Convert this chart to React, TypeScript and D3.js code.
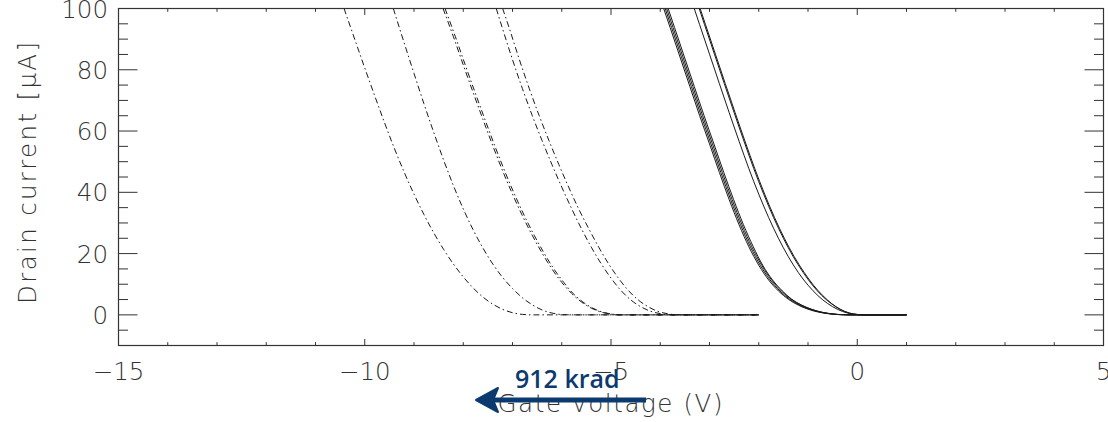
import React from 'react';
import * as d3 from 'd3';

// ---- axis ticks ----
const xTickValues = [-15, -10, -5, 0, 5];
const xTickLabels = ['\u221215', '\u221210', '\u22125', '0', '5'];
const yTickValues = [0, 20, 40, 60, 80, 100];
const yTickLabels = ['0', '20', '40', '60', '80', '100'];

// ---- dash-dot curves (irradiated) : gate voltage (V) / drain current (uA) ----
const curveA_V = [-10.42, -10.2, -10.0, -9.8, -9.6, -9.4, -9.2, -9.0, -8.8, -8.6, -8.4, -8.2, -8.0, -7.8, -7.6, -7.4, -7.2, -7.0, -6.8, -6.6, -2.0];
const curveA_I = [100, 89.8, 80.6, 71.6, 62.8, 54.4, 46.6, 39.4, 32.8, 26.8, 21.4, 16.6, 12.4, 8.8, 5.8, 3.5, 1.8, 0.7, 0.15, 0, 0];

const curveB_V = [-9.42, -9.2, -9.0, -8.8, -8.6, -8.4, -8.2, -8.0, -7.8, -7.6, -7.4, -7.2, -7.0, -6.8, -6.6, -6.4, -6.2, -6.0, -5.8, -2.0];
const curveB_I = [100, 88.8, 78.8, 69.0, 59.6, 50.6, 42.2, 34.6, 27.8, 21.8, 16.6, 12.2, 8.6, 5.6, 3.3, 1.6, 0.6, 0.1, 0, 0];

const curveC1_V = [-8.41, -8.2, -8.0, -7.8, -7.6, -7.4, -7.2, -7.0, -6.8, -6.6, -6.4, -6.2, -6.0, -5.8, -5.6, -5.4, -5.2, -5.0, -4.8, -2.0];
const curveC2_V = [-8.37, -8.16, -7.96, -7.76, -7.56, -7.36, -7.16, -6.96, -6.76, -6.56, -6.36, -6.16, -5.96, -5.77, -5.57, -5.37, -5.17, -4.98, -4.78, -2.0];
const curveC_I = [100, 90.8, 81.6, 72.6, 63.8, 55.2, 47.0, 39.4, 32.4, 26.0, 20.2, 15.0, 10.6, 7.0, 4.2, 2.2, 0.9, 0.25, 0, 0];

const curveD_V = [-7.33, -7.2, -7.0, -6.8, -6.6, -6.4, -6.2, -6.0, -5.8, -5.6, -5.4, -5.2, -5.0, -4.8, -4.6, -4.4, -4.2, -4.0, -3.8, -3.6, -2.0];
const curveE_V = [-7.2, -7.06, -6.86, -6.66, -6.46, -6.26, -6.06, -5.86, -5.66, -5.45, -5.25, -5.05, -4.85, -4.65, -4.45, -4.25, -4.06, -3.86, -3.66, -3.46, -2.0];
const curveDE_I = [100, 93.3, 83.3, 73.9, 65.1, 56.9, 49.1, 41.7, 34.7, 28.1, 22.1, 16.7, 12.0, 8.0, 4.9, 2.7, 1.2, 0.4, 0.05, 0, 0];

// ---- solid curves ----
const solid1a_V = [-3.93, -3.8, -3.6, -3.4, -3.2, -3.0, -2.8, -2.6, -2.4, -2.2, -2.0, -1.8, -1.6, -1.4, -1.2, -1.0, -0.8, -0.6, -0.4, -0.2, 1.0];
const solid1b_V = [-3.9, -3.77, -3.57, -3.37, -3.17, -2.97, -2.77, -2.57, -2.37, -2.17, -1.97, -1.77, -1.57, -1.37, -1.17, -0.97, -0.77, -0.57, -0.37, -0.17, 1.0];
const solid1c_V = [-3.87, -3.74, -3.54, -3.34, -3.14, -2.94, -2.74, -2.54, -2.34, -2.14, -1.94, -1.74, -1.54, -1.34, -1.14, -0.94, -0.75, -0.56, -0.37, -0.18, 1.0];
const solid1d_V = [-3.84, -3.71, -3.51, -3.31, -3.11, -2.91, -2.71, -2.51, -2.31, -2.11, -1.92, -1.72, -1.52, -1.33, -1.13, -0.93, -0.74, -0.55, -0.36, -0.18, 1.0];
const solid1_I = [100, 93.8, 84.2, 74.6, 65.0, 55.8, 46.5, 37.6, 29.4, 22.2, 16.2, 11.4, 7.8, 5.1, 3.2, 1.85, 0.95, 0.4, 0.1, 0, 0];

const solid2a_V = [-3.31, -3.2, -3.0, -2.8, -2.6, -2.4, -2.2, -2.0, -1.8, -1.6, -1.4, -1.2, -1.0, -0.8, -0.6, -0.4, -0.2, 0.0, 0.1, 1.0];
const solid2b_V = [-3.21, -3.1, -2.9, -2.7, -2.5, -2.3, -2.1, -1.9, -1.7, -1.5, -1.3, -1.1, -0.91, -0.72, -0.53, -0.35, -0.17, 0.01, 0.1, 1.0];
const solid2c_V = [-3.19, -3.08, -2.88, -2.68, -2.48, -2.28, -2.08, -1.88, -1.68, -1.48, -1.28, -1.08, -0.89, -0.7, -0.52, -0.34, -0.16, 0.02, 0.11, 1.0];
const solid2_I = [100, 94.7, 85.1, 75.5, 66.0, 56.7, 47.7, 39.4, 31.8, 25.0, 19.0, 13.9, 9.7, 6.3, 3.7, 1.8, 0.6, 0.1, 0, 0];

// ---- annotation ----
const annotationText = '912 krad';

const W = 1108;
const H = 422;
const AXIS_COLOR = '#333333';
const TEXT_COLOR = '#333333';
const NAVY = '#0b3b6e';
const FONT = '"DejaVu Sans", sans-serif';

function zip(v: number[], i: number[]): [number, number][] {
  return v.map((d, k) => [d, i[k]] as [number, number]);
}

export default function App() {
  const x = d3.scaleLinear().domain([-15, 5]).range([118.5, 1103.5]);
  const y = d3.scaleLinear().domain([-10, 100]).range([345.5, 8.5]);
  const line = d3
    .line<[number, number]>()
    .x((d) => x(d[0]))
    .y((d) => y(d[1]))
    .curve(d3.curveMonotoneX);

  const dashDot = [
    zip(curveA_V, curveA_I),
    zip(curveB_V, curveB_I),
    zip(curveC1_V, curveC_I),
    zip(curveC2_V, curveC_I),
    zip(curveD_V, curveDE_I),
    zip(curveE_V, curveDE_I),
  ];
  const solid = [
    zip(solid1a_V, solid1_I),
    zip(solid1b_V, solid1_I),
    zip(solid1c_V, solid1_I),
    zip(solid1d_V, solid1_I),
    zip(solid2a_V, solid2_I),
    zip(solid2b_V, solid2_I),
    zip(solid2c_V, solid2_I),
  ];

  const [x0, x1] = x.range();
  const [yb, yt] = y.range();
  const xMinor = d3.range(-15, 5.001, 1);
  const yMinor = d3.range(-10, 100.001, 5);
  const yMajLen = 19;
  const yMinLen = 9.5;
  const xMajLen = 6.5;
  const xMinLen = 3.3;

  const arrowY = 400;
  const arrowTipX = 476;
  const arrowTailX = 646;
  const fs = 24.5;

  return (
    <svg
      width={W}
      height={H}
      style={{ position: 'absolute', left: 0, top: 0, background: '#fff' }}
      xmlns="http://www.w3.org/2000/svg"
    >
      <rect x={0} y={0} width={W} height={H} fill="#fff" />
      <defs>
        <clipPath id="plotclip">
          <rect x={x0} y={yt} width={x1 - x0} height={yb - yt} />
        </clipPath>
      </defs>

      {/* curves */}
      <g clipPath="url(#plotclip)" fill="none">
        {dashDot.map((d, k) => (
          <path
            key={'dd' + k}
            d={line(d) || ''}
            stroke="#1a1a1a"
            strokeWidth={1}
            strokeDasharray="6,3,1.5,3"
          />
        ))}
        {solid.map((d, k) => (
          <path key={'s' + k} d={line(d) || ''} stroke="#1a1a1a" strokeWidth={1} />
        ))}
      </g>

      {/* box */}
      <rect x={x0} y={yt} width={x1 - x0} height={yb - yt} fill="none" stroke={AXIS_COLOR} strokeWidth={1.2} />

      {/* x ticks bottom and top */}
      {xMinor.map((v) => {
        const major = xTickValues.includes(Math.round(v)) && Math.abs(v - Math.round(v)) < 1e-6;
        const len = major ? xMajLen : xMinLen;
        return (
          <g key={'xt' + v} stroke={AXIS_COLOR} strokeWidth={1}>
            <line x1={x(v)} x2={x(v)} y1={yb} y2={yb - len} />
            <line x1={x(v)} x2={x(v)} y1={yt} y2={yt + len} />
          </g>
        );
      })}
      {/* y ticks left and right */}
      {yMinor.map((v) => {
        const major = yTickValues.includes(v);
        const len = major ? yMajLen : yMinLen;
        return (
          <g key={'yt' + v} stroke={AXIS_COLOR} strokeWidth={1}>
            <line x1={x0} x2={x0 + len} y1={y(v)} y2={y(v)} />
            <line x1={x1} x2={x1 - len} y1={y(v)} y2={y(v)} />
          </g>
        );
      })}

      {/* tick labels */}
      <g fill={TEXT_COLOR} fontFamily={FONT} fontWeight={200} fontSize={fs}>
        {xTickValues.map((v, k) => (
          <text key={'xl' + v} x={x(v)} y={380} textAnchor="middle">
            {xTickLabels[k]}
          </text>
        ))}
        {yTickValues.map((v, k) => (
          <text key={'yl' + v} x={108} y={y(v) + 9} textAnchor="end">
            {yTickLabels[k]}
          </text>
        ))}
      </g>

      {/* axis titles */}
      <text
        x={610}
        y={412}
        textAnchor="middle"
        fill={TEXT_COLOR}
        fontFamily={FONT}
        fontWeight={200}
        fontSize={fs}
        textLength={225}
        lengthAdjust="spacing"
      >
        Gate voltage (V)
      </text>
      <text
        transform={`translate(36,173) rotate(-90)`}
        textAnchor="middle"
        fill={TEXT_COLOR}
        fontFamily={FONT}
        fontWeight={200}
        fontSize={fs}
        textLength={262}
        lengthAdjust="spacing"
      >
        Drain current [μA]
      </text>

      {/* annotation */}
      <text x={515} y={388} fill={NAVY} fontFamily='"Open Sans", sans-serif' fontWeight={600} fontSize={25}>
        {annotationText}
      </text>
      <line x1={arrowTailX} x2={arrowTipX + 14} y1={arrowY} y2={arrowY} stroke={NAVY} strokeWidth={5} />
      <polygon
        points={`${arrowTipX},${arrowY} ${arrowTipX + 22},${arrowY - 12} ${arrowTipX + 17},${arrowY} ${arrowTipX + 22},${arrowY + 12}`}
        fill={NAVY}
        stroke={NAVY}
        strokeWidth={2}
        strokeLinejoin="round"
      />
    </svg>
  );
}
